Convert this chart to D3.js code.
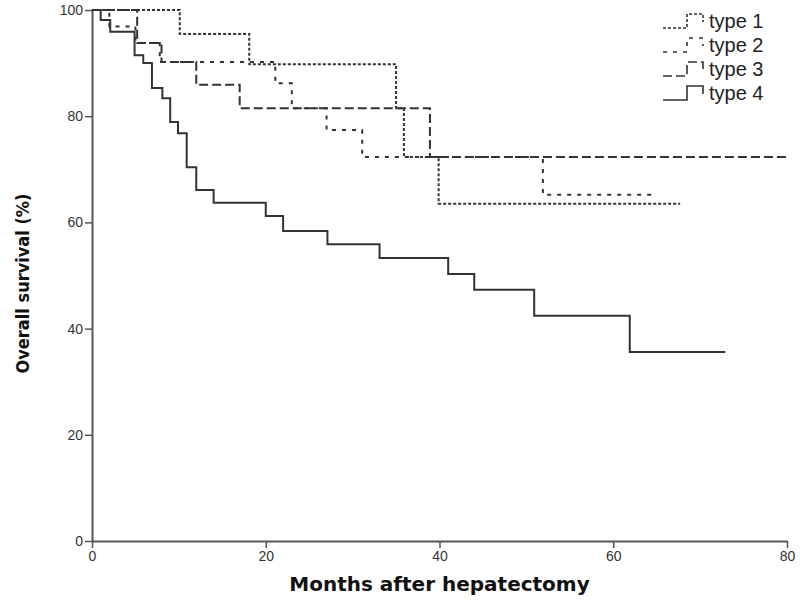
<!DOCTYPE html>
<html>
<head>
<meta charset="utf-8">
<script src="https://cdn.jsdelivr.net/npm/d3@7"></script>
<style>
  body { margin: 0; background: #fff; }
  svg { display: block; font-family: "Liberation Sans", Arial, sans-serif; }
</style>
</head>
<body>
<div id="chart"></div>
<script>
  // Kaplan-Meier steps: months and survival (%)
  var type1Months = [0, 10.1, 18.1, 35, 35.9, 39.9, 67.7];
  var type1Surv   = [100, 95.5, 89.8, 81.5, 72.3, 63.5, 63.5];

  var type2Months = [0, 2, 5, 7.8, 21.1, 23, 27, 31.1, 51.9, 64.5];
  var type2Surv   = [100, 96.9, 93.8, 90.2, 86.2, 81.5, 77.4, 72.3, 65.2, 65.2];

  var type3Months = [0, 5.2, 8, 12, 17, 38.9, 80];
  var type3Surv   = [100, 93.8, 90.2, 85.9, 81.5, 72.3, 72.3];

  var type4Months = [0, 1, 2.1, 4.9, 5.9, 6.9, 8.1, 9, 9.9, 10.9, 12, 14, 20, 22, 27.1, 33.1, 41, 44, 50.9, 61.9, 72.9];
  var type4Surv   = [100, 98.1, 95.9, 91.5, 90, 85.3, 83.4, 78.9, 76.8, 70.4, 66.1, 63.7, 61.2, 58.4, 55.9, 53.3, 50.3, 47.3, 42.4, 35.6, 35.6];

  var seriesNames = ['type 1', 'type 2', 'type 3', 'type 4'];
  var xTicks = [0, 20, 40, 60, 80];
  var yTicks = [0, 20, 40, 60, 80, 100];

  var width = 800, height = 600;
  var margin = { top: 10, right: 13, bottom: 59, left: 92 };

  var svg = d3.select('#chart').append('svg').attr('width', width).attr('height', height);

  var x = d3.scaleLinear().domain([0, 80]).range([margin.left, width - margin.right]);
  var y = d3.scaleLinear().domain([0, 100]).range([height - margin.bottom, margin.top]);

  function zipSeries(ms, vs) {
    return ms.map(function (m, i) { return { m: m, v: vs[i] }; });
  }

  var series = [
    { name: seriesNames[0], pts: zipSeries(type1Months, type1Surv), dash: '3,2' },
    { name: seriesNames[1], pts: zipSeries(type2Months, type2Surv), dash: '4,6' },
    { name: seriesNames[2], pts: zipSeries(type3Months, type3Surv), dash: '9,4' },
    { name: seriesNames[3], pts: zipSeries(type4Months, type4Surv), dash: null }
  ];

  var line = d3.line()
    .x(function (d) { return x(d.m); })
    .y(function (d) { return y(d.v); })
    .curve(d3.curveStepAfter);

  // axes
  var xAxis = svg.append('g')
    .attr('transform', 'translate(0,' + y(0) + ')')
    .call(d3.axisBottom(x).tickValues(xTicks).tickSize(7).tickSizeOuter(0).tickPadding(3));
  var yAxis = svg.append('g')
    .attr('transform', 'translate(' + x(0) + ',0)')
    .call(d3.axisLeft(y).tickValues(yTicks).tickSize(7).tickSizeOuter(0).tickPadding(2));

  [xAxis, yAxis].forEach(function (ax) {
    ax.select('.domain').attr('stroke', '#555').attr('stroke-width', 2);
    ax.selectAll('.tick line').attr('stroke', '#555').attr('stroke-width', 1.5);
    ax.selectAll('.tick text').attr('fill', '#333').attr('font-size', 14);
  });

  // curves
  series.forEach(function (s) {
    svg.append('path')
      .datum(s.pts)
      .attr('fill', 'none')
      .attr('stroke', '#333')
      .attr('stroke-width', 2)
      .attr('stroke-dasharray', s.dash)
      .attr('d', line);
  });

  // axis titles
  svg.append('text')
    .attr('x', (x(0) + x(80)) / 2).attr('y', 591)
    .attr('text-anchor', 'middle')
    .attr('font-family', '"DejaVu Sans", sans-serif')
    .attr('font-weight', 'bold').attr('font-size', 20).attr('fill', '#111')
    .text('Months after hepatectomy');

  svg.append('text')
    .attr('transform', 'translate(29,' + (y(50) + 8) + ') rotate(-90)')
    .attr('text-anchor', 'middle')
    .attr('font-family', '"DejaVu Sans Condensed", "DejaVu Sans", sans-serif')
    .attr('font-weight', 'bold').attr('font-size', 18).attr('fill', '#111')
    .text('Overall survival (%)');

  // legend
  var legend = svg.append('g').attr('transform', 'translate(663,0)');
  series.forEach(function (s, i) {
    var base = 28 + i * 24;
    var top = base - 14;
    legend.append('path')
      .attr('d', 'M0,' + base + 'H24V' + top + 'H40V' + (top + 8))
      .attr('fill', 'none').attr('stroke', '#333').attr('stroke-width', 1.6)
      .attr('stroke-dasharray', s.dash);
    legend.append('text')
      .attr('x', 46).attr('y', base)
      .attr('font-size', 20).attr('fill', '#222')
      .text(s.name);
  });
</script>
</body>
</html>
